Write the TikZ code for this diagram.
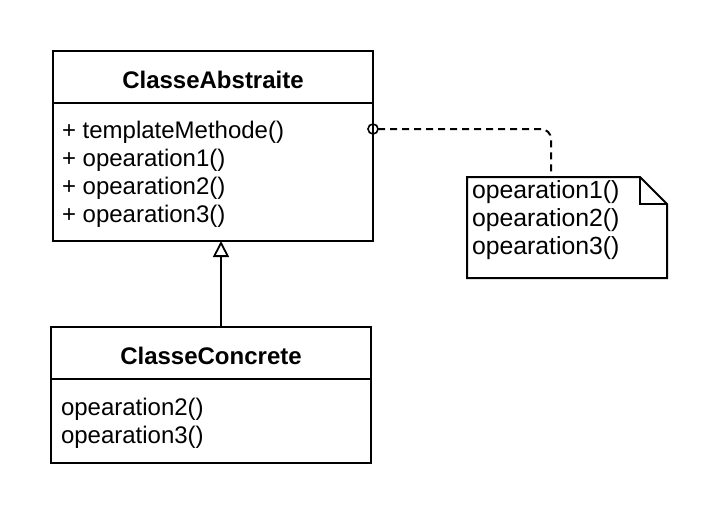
\documentclass[tikz,border=0pt]{standalone}
\usepackage{fontspec}
\setmainfont{Liberation Sans}
\usetikzlibrary{arrows.meta}
\begin{document}
\begin{tikzpicture}[x=1pt,y=-1pt,
  every node/.style={inner sep=0pt, outer sep=0pt},
  classbox/.style={draw, line width=2pt, anchor=north west, minimum width=320pt},
  titletext/.style={anchor=base, font=\fontsize{24}{28}\selectfont\bfseries},
  membertext/.style={anchor=base west, font=\fontsize{24}{28}\selectfont},
  notetext/.style={anchor=base west, font=\fontsize{24.8}{28}\selectfont},
  conn/.style={line width=2pt},
]
\useasboundingbox (0,0) rectangle (718,520);
% abstract class
\node[classbox, minimum height=190pt] (abs) at (53,51) {};
\coordinate (d1) at (53,103);
\draw[line width=2pt] (d1) -- (d1 -| abs.east);
\node[titletext] (t1) at (213,88) {ClasseAbstraite};
\node[membertext] (m1) at (62,138) {+ templateMethode()};
\node[membertext] (m2) at (62,166) {+ opearation1()};
\node[membertext] (m3) at (62,194) {+ opearation2()};
\node[membertext] (m4) at (62,222) {+ opearation3()};
% concrete class
\node[classbox, minimum height=136pt] (conc) at (51,327) {};
\coordinate (d2) at (51,379);
\draw[line width=2pt] (d2) -- (d2 -| conc.east);
\node[titletext] (t2) at (211,364) {ClasseConcrete};
\node[membertext] (c1) at (61,415) {opearation2()};
\node[membertext] (c2) at (61,443) {opearation3()};
% note
\node[anchor=north west, minimum width=200pt, minimum height=101pt] (note) at (467,177) {};
\draw[line width=2pt, line join=miter]
  (note.north west) -- ([xshift=-27pt]note.north east) -- ([yshift=-27pt]note.north east)
  -- (note.south east) -- (note.south west) -- cycle;
\draw[line width=2pt] ([xshift=-27pt]note.north east) |- ([yshift=-27pt]note.north east);
\node[notetext] (n1) at (472,198) {opearation1()};
\node[notetext] (n2) at (472,226) {opearation2()};
\node[notetext] (n3) at (472,254) {opearation3()};
% inheritance
\coordinate (ax) at (221,0);
\draw[conn, -{Triangle[open, length=16pt, width=16pt, line width=1.8pt]}] (conc.north -| ax) -- (abs.south -| ax);
% note connector
\coordinate (cc) at (373,129);
\coordinate (nt) at (551,177);
\draw[line width=1.6pt] (cc) circle (5pt);
\draw[conn, dash pattern=on 7pt off 5pt, rounded corners=10pt] ([xshift=5pt]cc) -| (nt);
\end{tikzpicture}
\end{document}
